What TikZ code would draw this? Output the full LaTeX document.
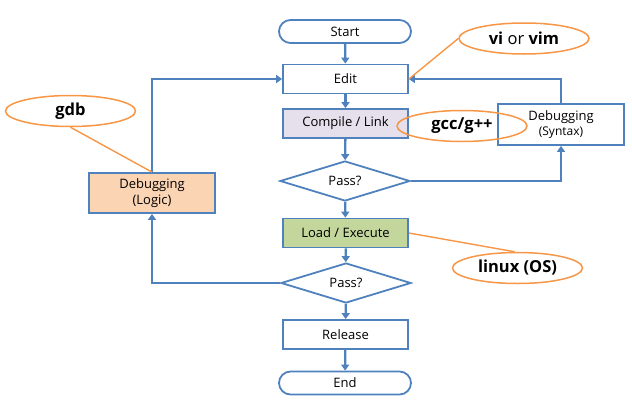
\documentclass[tikz,border=0pt]{standalone}
\usepackage{fontspec}
\setmainfont{Open Sans}
\usetikzlibrary{shapes.geometric,arrows.meta}
\definecolor{lblue}{HTML}{4F81BD}
\definecolor{lorange}{HTML}{F79646}
\definecolor{compfill}{HTML}{E5E0EC}
\definecolor{loadfill}{HTML}{C3D69B}
\definecolor{logicfill}{HTML}{FBD4B4}
\begin{document}
\begin{tikzpicture}[x=1pt,y=-1pt,
  box/.style={draw=lblue, line width=1.8pt, minimum width=125pt, minimum height=29pt, inner sep=0pt, font=\fontsize{13}{15}\selectfont},
  term/.style={box, rounded corners=11.5pt, minimum width=132pt, minimum height=23pt},
  dia/.style={diamond, draw=lblue, line width=1.8pt, aspect=3.25, minimum width=130pt, minimum height=40pt, inner sep=0pt, font=\fontsize{13}{15}\selectfont},
  note/.style={ellipse, draw=lorange, line width=1.5pt, minimum width=130pt, minimum height=31pt, inner sep=0pt, font=\bfseries\fontsize{16.5}{20}\selectfont},
  flow/.style={draw=lblue, line width=2.3pt, -{Triangle[length=6pt,width=8pt]}},
  link/.style={draw=lorange, line width=1.4pt}]
\useasboundingbox (0,0) rectangle (632,407);
\node[term] (start) at (345,31.5) {Start};
\node[box] (edit) at (345.5,79) {Edit};
\node[box, fill=compfill] (comp) at (345.5,123.5) {Compile / Link};
\node[dia] (pass1) at (345,181) {Pass?};
\node[box, fill=loadfill] (load) at (345.5,233) {Load / Execute};
\node[dia] (pass2) at (346,283) {Pass?};
\node[box] (rel) at (345.5,334.5) {Release};
\node[term] (end) at (345,383) {End};
\node[box, minimum width=126pt, minimum height=41pt, align=center, font=\fontsize{13}{16}\selectfont] (dsyn) at (561,124.5) {Debugging\\{\fontsize{12}{15}\selectfont (Syntax)}};
\node[box, fill=logicfill, minimum width=126pt, minimum height=40pt, align=center, font=\fontsize{13}{16}\selectfont] (dlog) at (152,193) {Debugging\\(Logic)};
\node[note] (vi) at (524,38.5) {vi {\mdseries or} vim};
\node[note] (gcc) at (462,126) {gcc/g++};
\node[note] (gdb) at (70.5,111) {gdb};
\node[note] (linux) at (517.5,268) {linux (OS)};
\draw[flow] (start) -- (edit);
\draw[flow] (edit) -- (comp);
\draw[flow] (comp) -- (pass1);
\draw[flow] (pass1) -- (load);
\draw[flow] (load) -- (pass2);
\draw[flow] (pass2) -- (rel);
\draw[flow] (rel) -- (end);
\draw[flow] (pass1.east) -| (dsyn.south);
\draw[flow] (dsyn.north) |- (edit.east);
\draw[flow] (pass2.west) -| (dlog.south);
\draw[flow] (dlog.north) |- (edit.west);
\draw[link] (vi.west) -- (edit.east);
\draw[link] (gdb.south) -- (dlog.north);
\draw[link] (load.east) -- (linux.100);
\end{tikzpicture}
\end{document}
